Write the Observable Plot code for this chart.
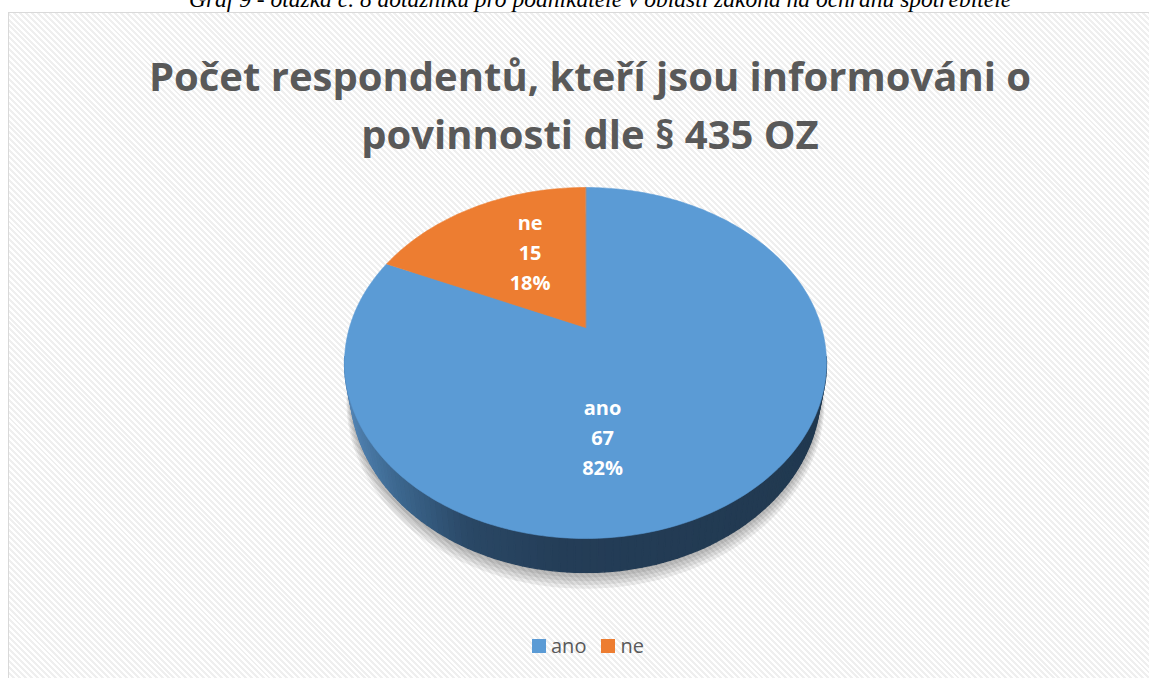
<!DOCTYPE html>
<html>
<head>
<meta charset="utf-8">
<script src="https://cdn.jsdelivr.net/npm/d3@7"></script>
<script src="https://cdn.jsdelivr.net/npm/@observablehq/plot@0.6"></script>
<style>
html,body{margin:0;padding:0;width:1149px;height:678px;overflow:hidden;background:#fff;}
#frame{position:absolute;left:8px;top:12px;width:1170px;height:700px;border-top:1.5px solid #d9d9d9;border-left:1.5px solid #d9d9d9;
  background:repeating-linear-gradient(45deg,#ffffff 0 2.1px,#efefef 2.1px 4.2px);}
#caption{position:absolute;left:0;width:1200px;top:-12px;text-align:center;font:italic 23.5px/22px "Liberation Serif";color:#000;white-space:nowrap;}
#title{position:absolute;left:8px;width:1164px;top:47px;text-align:center;font-family:"Open Sans";font-weight:700;font-size:40px;line-height:58px;color:#595959;white-space:nowrap;}
#chart{position:absolute;left:0;top:175px;}
#legend{position:absolute;left:532px;top:636px;height:20px;display:flex;align-items:center;font-family:"Open Sans";font-size:20px;line-height:20px;color:#595959;}
#legend .sw{width:14px;height:14px;margin-right:5px;}
#legend .item{display:flex;align-items:center;margin-right:15px;}
</style>
</head>
<body>
<div id="frame"></div>
<div id="caption">Graf 9 - otázka č. 8 dotazníku pro podnikatele v oblasti zákona na ochranu spotřebitele</div>
<div id="title">Počet respondentů, kteří jsou informováni o<br>povinnosti dle § 435 OZ</div>
<div id="chart"></div>
<div id="legend"></div>
<script>
// ---- data ----
const categories = ["ano", "ne"];
const counts = [67, 15];
const colors = ["#5b9bd5", "#ed7d31"];

// ---- layout (perspective pie) ----
const CX = 585, CY = 327, A = 236, B = 168.3, P = 0.2023, DEPTH = 27.1, BOT = 0.975;
const LABEL_R = 0.57, LABEL_POS = 0.59; // label at 59% of each slice's sweep
const rad = d => d * Math.PI / 180;
function proj(u, v, bottom = false, extra = 0, grow = 0) {
  const k = 1 / (1 + P * v);
  return bottom
    ? {x: CX + (BOT * A + grow) * u * k, y: CY - (B + grow) * v * k + (DEPTH + extra) * k}
    : {x: CX + A * u * k, y: CY - B * v * k};
}
const at = (deg, r = 1, bottom = false, extra = 0, grow = 0) =>
  proj(r * Math.sin(rad(deg)), r * Math.cos(rad(deg)), bottom, extra, grow);

const total = d3.sum(counts);
let start = 0;
const slices = categories.map((c, i) => {
  const a0 = start, a1 = start + 360 * counts[i] / total;
  start = a1;
  const pts = [proj(0, 0)];
  const n = Math.max(2, Math.ceil(a1 - a0));
  for (let j = 0; j <= n; j++) pts.push(at(a0 + (a1 - a0) * j / n));
  const lp = at(a0 + (a1 - a0) * LABEL_POS, LABEL_R);
  return {c, i, a0, a1, pts, color: colors[i],
    label: {x: lp.x, y: lp.y, text: `${c}\n${counts[i]}\n${Math.round(100 * counts[i] / total)}%`}};
});

// side band made of thin strips, shaded left (lighter) to right (dark)
const sideShade = d3.scaleLinear()
  .domain([0, 0.1, 0.25, 0.45, 1])
  .range(["#5283b3", "#3d6890", "#2a4866", "#243d57", "#213950"])
  .interpolate(d3.interpolateRgb).clamp(true);
const sil = Math.acos(-P) * 180 / Math.PI; // ~101.7
const xL = CX - A / Math.sqrt(1 - P * P), xR = CX + A / Math.sqrt(1 - P * P);
const side = [];
const STEP = 1.5;
let seg = 0;
for (let d = sil - 2; d < 360 - sil + 2; d += STEP, seg++) {
  const d2 = Math.min(d + STEP, 360 - sil + 2);
  const t0 = at(d), t1 = at(d2), b1 = at(d2, 1, true), b0 = at(d, 1, true);
  const col = sideShade(((t0.x + t1.x) / 2 - xL) / (xR - xL));
  for (const p of [t0, t1, b1, b0]) side.push({x: p.x, y: p.y, seg, col});
}

// soft shadow: stacked translucent ellipses
const shadow = [];
[[1, 0], [3, 1], [5, 2], [7, 3], [9, 4]].forEach(([ex, gr], layer) => {
  for (let d = 0; d < 360; d += 2) {
    const p = at(d, 1, true, ex, gr);
    shadow.push({x: p.x, y: p.y, layer});
  }
});

const svg = Plot.plot({
  width: 1149, height: 440, margin: 0,
  x: {domain: [0, 1149], range: [0, 1149], axis: null},
  y: {domain: [175, 615], range: [0, 440], axis: null},
  color: {type: "identity"},
  style: {background: "transparent", overflow: "visible"},
  marks: [
    Plot.line(shadow, {x: "x", y: "y", z: "layer", fill: "#000000", fillOpacity: 0.07, stroke: "#000000", strokeOpacity: 0, curve: "linear-closed"}),
    Plot.line(side, {x: "x", y: "y", z: "seg", fill: "col", stroke: "col", strokeWidth: 1.3, curve: "linear-closed"}),
    ...slices.map(s => Plot.line(s.pts, {x: "x", y: "y", fill: s.color, stroke: s.color, strokeWidth: 0.6, curve: "linear-closed"})),
    Plot.text(slices.map(s => s.label), {x: "x", y: "y", text: "text", fill: "white", fontSize: 20, fontWeight: "bold", lineHeight: 1.5, fontFamily: "Open Sans"})
  ]
});

document.getElementById("chart").appendChild(svg);

// legend
const legend = d3.select("#legend");
categories.forEach((c, i) => {
  const it = legend.append("div").attr("class", "item");
  it.append("div").attr("class", "sw").style("background", colors[i]);
  it.append("span").text(c);
});
</script>
</body>
</html>
